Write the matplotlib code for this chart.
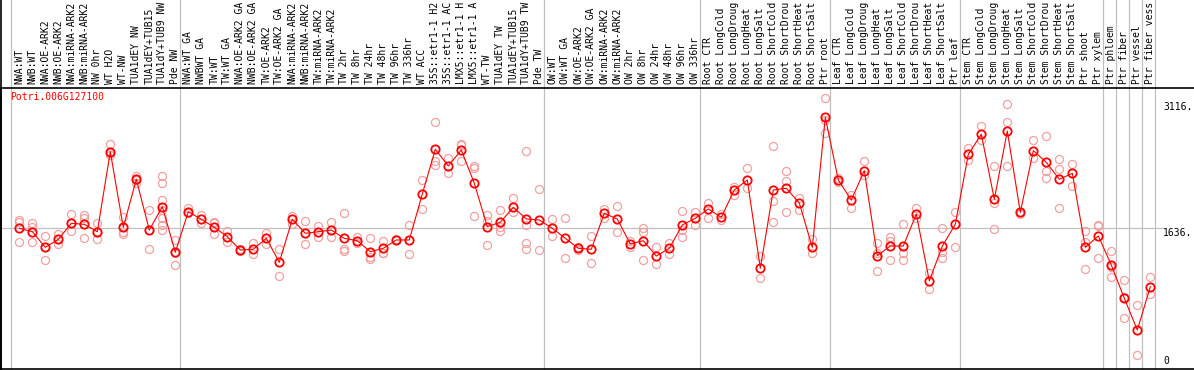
import matplotlib
matplotlib.use("Agg")
import matplotlib.pyplot as plt
import matplotlib.transforms as mtransforms
from matplotlib.lines import Line2D

gene = "Potri.006G127100"

# sample names as far as they are visible in the header strip
labels = [
    # NW group
    "NWA:WT", "NWB:WT", "NWA:OE-ARK2", "NWB:OE-ARK2", "NWA:miRNA-ARK2", "NWB:miRNA-ARK2",
    "NW 0hr", "WT H2O", "WT-NW", "TUA1dEY NW", "TUA1dEY+TUB15", "TUA1dY+TUB9 NW", "Pde NW",
    # TW group
    "NWA:WT GA", "NWBWT GA", "TW:WT", "TW:WT GA", "NWA:OE-ARK2 GA", "NWB:OE-ARK2 GA",
    "TW:OE-ARK2", "TW:OE-ARK2 GA", "NWA:miRNA-ARK2", "NWB:miRNA-ARK2", "TW:miRNA-ARK2",
    "TW:miRNA-ARK2", "TW 2hr", "TW 8hr", "TW 24hr", "TW 48hr", "TW 96hr", "TW 336hr",
    "WT ACC", "35S::etr1-1 H2", "35S::etr1-1 AC", "LMX5::etr1-1 H", "LMX5::etr1-1 A",
    "WT-TW", "TUA1dEY TW", "TUA1dEY+TUB15", "TUA1dY+TUB9 TW", "Pde TW",
    # OW group
    "OW:WT", "OW:WT GA", "OW:OE-ARK2", "OW:OE-ARK2 GA", "OW:miRNA-ARK2", "OW:miRNA-ARK2",
    "OW 2hr", "OW 8hr", "OW 24hr", "OW 48hr", "OW 96hr", "OW 336hr",
    # root
    "Root CTR", "Root LongCold", "Root LongDroug", "Root LongHeat", "Root LongSalt",
    "Root ShortCold", "Root ShortDrou", "Root ShortHeat", "Root ShortSalt", "Ptr root",
    # leaf
    "Leaf CTR", "Leaf LongCold", "Leaf LongDroug", "Leaf LongHeat", "Leaf LongSalt",
    "Leaf ShortCold", "Leaf ShortDrou", "Leaf ShortHeat", "Leaf ShortSalt", "Ptr leaf",
    # stem
    "Stem CTR", "Stem LongCold", "Stem LongDroug", "Stem LongHeat", "Stem LongSalt",
    "Stem ShortCold", "Stem ShortDrou", "Stem ShortHeat", "Stem ShortSalt", "Ptr shoot",
    "Ptr xylem",
    "Ptr phloem", "Ptr fiber", "Ptr vessel", "Ptr fiber vess",
]

group_sizes = [13, 28, 12, 10, 10, 11, 1, 1, 1, 1]

means = [
    1632, 1590, 1399, 1497, 1693, 1681, 1590, 2571, 1644, 2233, 1611, 1897, 1338,
    1836, 1742, 1644, 1529, 1366, 1375, 1509, 1215, 1742, 1571, 1590, 1611, 1509, 1480,
    1345, 1387, 1489, 1489, 2053, 2601, 2396, 2592, 2184, 1652, 1706, 1890, 1746, 1734,
    1632, 1509, 1387, 1375, 1816, 1746, 1440, 1480, 1292, 1387, 1673, 1755,
    1869, 1767, 2102, 2224, 1142, 2102, 2123, 1942, 1399, 2993,
    2224, 1979, 2338, 1296, 1415, 1415, 1807, 986, 1415, 1681,
    2539, 2785, 1988, 2825, 1828, 2584, 2441, 2233, 2306, 1399, 1538,
    1182, 774, 385, 916,
]

reps = [
    [1734, 1713, 1460], [1693, 1652, 1460], [1538, 1407, 1239], [1558, 1497, 1435],
    [1803, 1693, 1595], [1795, 1762, 1509], [1693, 1591, 1497], [2666, 2551, 2531],
    [1775, 1591, 1562], [2273, 2224, 2191], [1856, 1611, 1374],
    [2273, 2183, 1979, 1856, 1754, 1672, 1611], [1488, 1333, 1182],
    [1877, 1815], [1795, 1693], [1713, 1693, 1558], [1603, 1468], [1375, 1358],
    [1448, 1313], [1570, 1435], [1374, 1047], [1787, 1681], [1721, 1439], [1660, 1529],
    [1705, 1521], [1815, 1374, 1358], [1529, 1448], [1509, 1284, 1251], [1476, 1333, 1325],
    [1495, 1483], [1672, 1317], [2224, 1864], [2931, 2461, 2408], [2490, 2306],
    [2666, 2653, 2457], [2396, 2367, 1783], [1795, 1725, 1427], [1856, 1652, 1599],
    [1999, 1836], [2580, 1672, 1448, 1374], [2110, 1366],
    [1746, 1538], [1754, 1264], [1407, 1366], [1538, 1202], [1873, 1754], [1905, 1582],
    [1480, 1407], [1640, 1591, 1239], [1399, 1190], [1448, 1313], [1844, 1611, 1529],
    [1836, 1672],
    [1938, 1754], [1807, 1734], [2142, 2040], [2367, 2130], [1296, 1018],
    [2641, 1967, 1705], [2334, 2212, 1828], [1999, 1856], [1497, 1325], [3225, 2960, 2804],
    [2245, 2204], [2040, 1877], [2457, 2285], [1448, 1325, 1108], [1529, 1480, 1243],
    [1685, 1325, 1243], [1877, 1754], [1080, 888], [1632, 1345, 1264], [1828, 1399],
    [2612, 2469], [2886, 2715], [2396, 1938, 1619], [3156, 2939, 2396], [1828, 1807],
    [2715, 2490], [2764, 2334, 2245], [2482, 2355, 1877], [2420, 2155],
    [1599, 1468, 1129], [1672, 1660, 1264],
    [1354, 1162, 1031], [998, 794, 528], [692, 78], [1031, 826],
]

ref_line = 1636
scale_labels = ["3116.", "1636.", "0"]
scale_values = [3116, 1636, 0]

W, H = 1194, 370
fig = plt.figure(figsize=(W / 100, H / 100), dpi=100)
# plot box: x 1..1194 px, y 88..369 px
ax = fig.add_axes([1 / W, 1 / H, 1193 / W, 281 / H])

x = list(range(len(means)))
ax.set_xlim(-1.408, 90.36)
ax.set_ylim(-93.2, 3352.5)

mono = "DejaVu Sans Mono"
fs = 7.0
grey = "#c0c0c0"

# group separators, running through the label strip
top_ext = 1 + 88 / 281
bounds = [-1]
for g in group_sizes:
    bounds.append(bounds[-1] + g)
for b in bounds:
    ax.axvline(b + 0.36, ymin=0, ymax=top_ext, color=grey, lw=0.9, clip_on=False, zorder=1)

ax.axhline(ref_line, xmin=0, xmax=1162 / 1193, color=grey, lw=0.9, zorder=1)

# replicates
for i, r in enumerate(reps):
    ax.plot([i] * len(r), r, "o", ms=5.8, mfc="none", mec="#f2a0a0", mew=0.9, zorder=2, clip_on=False)

ax.plot(x, means, "-", color="red", lw=0.8, zorder=3)
ax.plot(x, means, "o", ms=6.0, mfc="none", mec="red", mew=1.3, zorder=4)

# sample labels above the plot
lab_tr = mtransforms.blended_transform_factory(ax.transData, ax.transAxes)
for i, lab in enumerate(labels):
    ax.text(i, 1 + 4 / 281, lab, rotation=90, ha="center", va="bottom", family=mono,
            fontsize=fs, transform=lab_tr, clip_on=False)

ax.text(9 / 1193, 1 - 8.7 / 281, gene, color="red", family=mono, fontsize=fs,
        ha="left", va="center", transform=ax.transAxes)

# scale labels on the right
sc_tr = mtransforms.blended_transform_factory(ax.transAxes, ax.transData)
for lab, v in zip(scale_labels, scale_values):
    va = "top" if v == ref_line else "center"
    ax.text(1162 / 1193, v, lab, family=mono, fontsize=fs, ha="left", va=va, transform=sc_tr)

ax.set_xticks([])
ax.set_yticks([])
ax.spines["right"].set_visible(False)
for side in ["top", "bottom", "left"]:
    ax.spines[side].set_linewidth(1.2)
    ax.spines[side].set_color("black")
# left border goes up through the label strip too
fig.add_artist(Line2D([1.2 / W, 1.2 / W], [0, 1], color="black", lw=1.2))

fig.savefig("out.png", dpi=100)
